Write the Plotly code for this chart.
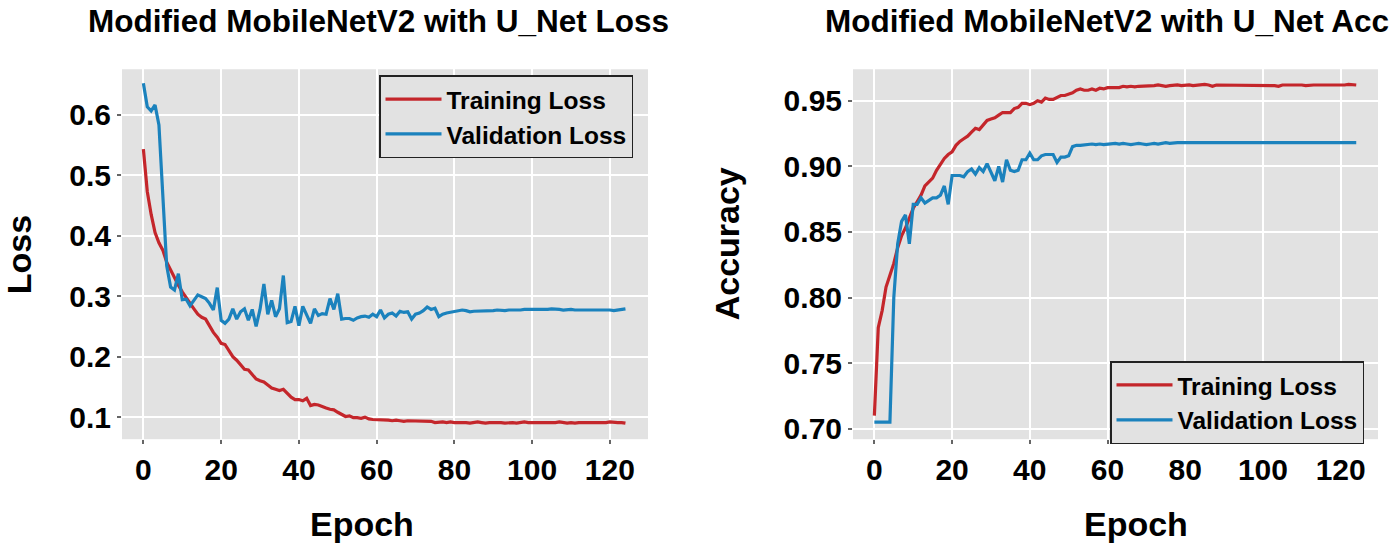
import plotly.graph_objects as go

epochs = list(range(125))

train_loss = [
    0.543, 0.473, 0.435, 0.405, 0.388, 0.376, 0.356, 0.343, 0.330, 0.318,
    0.307, 0.297, 0.288, 0.279, 0.270, 0.265, 0.262, 0.250, 0.240, 0.232,
    0.222, 0.220, 0.210, 0.200, 0.194, 0.186, 0.179, 0.178, 0.170, 0.163,
    0.160, 0.158, 0.153, 0.148, 0.146, 0.144, 0.146, 0.139, 0.133, 0.129,
    0.129, 0.127, 0.131, 0.119, 0.121, 0.120, 0.117, 0.115, 0.113, 0.112,
    0.108, 0.104, 0.101, 0.102, 0.099, 0.099, 0.098, 0.100, 0.097, 0.096,
    0.096, 0.095, 0.096, 0.095, 0.094, 0.095, 0.094, 0.093, 0.094, 0.094,
    0.093, 0.094, 0.093, 0.094, 0.093, 0.091, 0.092, 0.092, 0.091, 0.092,
    0.091, 0.091, 0.092, 0.091, 0.090, 0.091, 0.092, 0.091, 0.090, 0.091,
    0.091, 0.092, 0.091, 0.090, 0.091, 0.091, 0.090, 0.091, 0.092, 0.091,
    0.091, 0.090, 0.091, 0.091, 0.090, 0.091, 0.091, 0.092, 0.091, 0.090,
    0.091, 0.090, 0.091, 0.091, 0.090, 0.091, 0.091, 0.090, 0.091, 0.091,
    0.092, 0.091, 0.091, 0.091, 0.090,
]

val_loss = [
    0.652, 0.613, 0.606, 0.616, 0.583, 0.462, 0.350, 0.315, 0.310, 0.337,
    0.294, 0.295, 0.284, 0.293, 0.302, 0.299, 0.296, 0.288, 0.277, 0.314,
    0.260, 0.255, 0.262, 0.279, 0.262, 0.274, 0.279, 0.260, 0.278, 0.250,
    0.278, 0.320, 0.270, 0.293, 0.266, 0.279, 0.334, 0.256, 0.258, 0.283,
    0.251, 0.283, 0.268, 0.255, 0.279, 0.268, 0.271, 0.270, 0.296, 0.278,
    0.304, 0.262, 0.263, 0.263, 0.260, 0.264, 0.266, 0.267, 0.265, 0.270,
    0.266, 0.277, 0.264, 0.270, 0.272, 0.267, 0.275, 0.273, 0.274, 0.262,
    0.270, 0.272, 0.276, 0.282, 0.278, 0.280, 0.266, 0.270, 0.272, 0.273,
    0.274, 0.276, 0.277, 0.276, 0.274, 0.275, 0.275, 0.276, 0.275, 0.276,
    0.276, 0.277, 0.276, 0.276, 0.277, 0.277, 0.276, 0.277, 0.278, 0.278,
    0.278, 0.277, 0.277, 0.278, 0.278, 0.279, 0.279, 0.278, 0.277, 0.278,
    0.278, 0.277, 0.277, 0.278, 0.277, 0.277, 0.278, 0.277, 0.277, 0.277,
    0.277, 0.276, 0.277, 0.277, 0.279,
]

train_acc = [
    0.710, 0.777, 0.790, 0.808, 0.817, 0.826, 0.838, 0.847, 0.853, 0.861,
    0.868, 0.873, 0.878, 0.885, 0.888, 0.891, 0.897, 0.902, 0.906, 0.909,
    0.911, 0.916, 0.919, 0.921, 0.923, 0.926, 0.929, 0.928, 0.932, 0.935,
    0.936, 0.937, 0.939, 0.941, 0.941, 0.941, 0.944, 0.945, 0.948, 0.948,
    0.947, 0.948, 0.950, 0.949, 0.952, 0.951, 0.951, 0.9525, 0.954, 0.954,
    0.955, 0.956, 0.958, 0.959, 0.958, 0.958, 0.959, 0.958, 0.9595, 0.959,
    0.960, 0.960, 0.9605, 0.960, 0.961, 0.9605, 0.961, 0.9605, 0.961, 0.961,
    0.9615, 0.961, 0.9615, 0.962, 0.9615, 0.961, 0.9615, 0.962, 0.962, 0.9615,
    0.962, 0.962, 0.9615, 0.962, 0.962, 0.9625, 0.962, 0.961, 0.962, 0.962,
    0.9615, 0.962, 0.962, 0.962, 0.9615, 0.962, 0.962, 0.962, 0.962, 0.9615,
    0.962, 0.962, 0.962, 0.9615, 0.961, 0.962, 0.962, 0.962, 0.9625, 0.962,
    0.962, 0.9615, 0.962, 0.962, 0.962, 0.962, 0.9615, 0.962, 0.962, 0.9615,
    0.962, 0.962, 0.9625, 0.962, 0.962,
]

val_acc = [
    0.705, 0.705, 0.705, 0.705, 0.705, 0.800, 0.841, 0.858, 0.863, 0.841,
    0.871, 0.871, 0.876, 0.872, 0.874, 0.876, 0.876, 0.878, 0.885, 0.871,
    0.893, 0.893, 0.893, 0.892, 0.896, 0.898, 0.894, 0.899, 0.896, 0.902,
    0.896, 0.889, 0.900, 0.888, 0.905, 0.897, 0.896, 0.897, 0.905, 0.905,
    0.910, 0.905, 0.905, 0.908, 0.909, 0.909, 0.909, 0.903, 0.907, 0.907,
    0.908, 0.915, 0.916, 0.916, 0.9165, 0.9165, 0.917, 0.9165, 0.917, 0.9165,
    0.917, 0.917, 0.9175, 0.917, 0.9175, 0.917, 0.9165, 0.917, 0.9175, 0.917,
    0.9165, 0.917, 0.9175, 0.917, 0.9175, 0.918, 0.9175, 0.918, 0.918, 0.918,
    0.918, 0.918, 0.918, 0.918, 0.918, 0.918, 0.918, 0.918, 0.918, 0.918,
    0.918, 0.918, 0.918, 0.918, 0.918, 0.918, 0.918, 0.918, 0.918, 0.918,
    0.918, 0.918, 0.918, 0.918, 0.918, 0.918, 0.918, 0.918, 0.918, 0.918,
    0.918, 0.918, 0.918, 0.918, 0.918, 0.918, 0.918, 0.918, 0.918, 0.918,
    0.918, 0.918, 0.918, 0.918, 0.918,
]

loss_ticks = [0.1, 0.2, 0.3, 0.4, 0.5, 0.6]
acc_ticks = [0.70, 0.75, 0.80, 0.85, 0.90, 0.95]
epoch_ticks = [0, 20, 40, 60, 80, 100, 120]

RED = "#c4262b"
BLUE = "#1b82bd"
BG = "#e2e2e2"
FONT = "Liberation Sans"
W, H = 1400, 553


def px(x):
    return x / W


def py(y):
    return 1 - y / H


fig = go.Figure()
fig.add_trace(go.Scatter(x=epochs, y=train_loss, mode="lines", name="Training Loss",
                         line=dict(color=RED, width=3.2), xaxis="x", yaxis="y", legend="legend"))
fig.add_trace(go.Scatter(x=epochs, y=val_loss, mode="lines", name="Validation Loss",
                         line=dict(color=BLUE, width=3.2), xaxis="x", yaxis="y", legend="legend"))
fig.add_trace(go.Scatter(x=epochs, y=train_acc, mode="lines", name="Training Loss",
                         line=dict(color=RED, width=3.2), xaxis="x2", yaxis="y2", legend="legend2"))
fig.add_trace(go.Scatter(x=epochs, y=val_acc, mode="lines", name="Validation Loss",
                         line=dict(color=BLUE, width=3.2), xaxis="x2", yaxis="y2", legend="legend2"))

axis_common = dict(
    showgrid=True, gridcolor="white", gridwidth=2, zeroline=False,
    ticks="outside", ticklen=4, tickwidth=2, tickcolor="#666666",
    tickfont=dict(family=FONT, size=30, color="black", weight="bold"),
    showline=False,
)

ydom = [py(444), py(70)]

legend_common = dict(
    xanchor="left", yanchor="top",
    bgcolor=BG, bordercolor="#222222", borderwidth=1.5,
    font=dict(family=FONT, size=24.5, color="black", weight="bold"),
    itemwidth=56, tracegroupgap=0,
)

fig.update_layout(
    width=W, height=H,
    margin=dict(l=0, r=0, t=0, b=0),
    paper_bgcolor="white",
    plot_bgcolor=BG,
    font=dict(family=FONT, color="black", weight="bold"),
    xaxis=dict(domain=[px(122), px(648)], range=[-5.5, 129.8], tickvals=epoch_ticks,
               anchor="y", **axis_common),
    yaxis=dict(domain=ydom, range=[0.0635, 0.675], tickvals=loss_ticks,
               tickformat=".1f", anchor="x", **axis_common),
    xaxis2=dict(domain=[px(853), px(1378)], range=[-5.5, 129.6], tickvals=epoch_ticks,
                anchor="y2", **axis_common),
    yaxis2=dict(domain=ydom, range=[0.692, 0.974], tickvals=acc_ticks,
                tickformat=".2f", anchor="x2", **axis_common),
    legend=dict(x=px(379), y=py(76), **legend_common),
    legend2=dict(x=px(1110), y=py(365), **legend_common),
    showlegend=True,
)

annotations = [
    dict(text="Modified MobileNetV2 with U_Net Loss", x=px(378), y=py(21), size=31.5),
    dict(text="Modified MobileNetV2 with U_Net Acc", x=px(1107), y=py(21), size=31.5),
    dict(text="Epoch", x=px(362), y=py(530), size=34),
    dict(text="Epoch", x=px(1136), y=py(530), size=34),
    dict(text="Loss", x=px(19), y=py(258), size=34, angle=-90),
    dict(text="Accuracy", x=px(727), y=py(246), size=34, angle=-90),
]
for a in annotations:
    fig.add_annotation(
        text=a["text"], x=a["x"], y=a["y"], xref="paper", yref="paper",
        xanchor="center", yanchor="middle", showarrow=False,
        textangle=a.get("angle", 0),
        font=dict(family=FONT, size=a["size"], color="black", weight="bold"),
    )

fig.write_html(
    "out.html",
    config={"displayModeBar": False},
    post_script="document.body.style.margin='0';document.body.style.overflow='hidden';",
)
